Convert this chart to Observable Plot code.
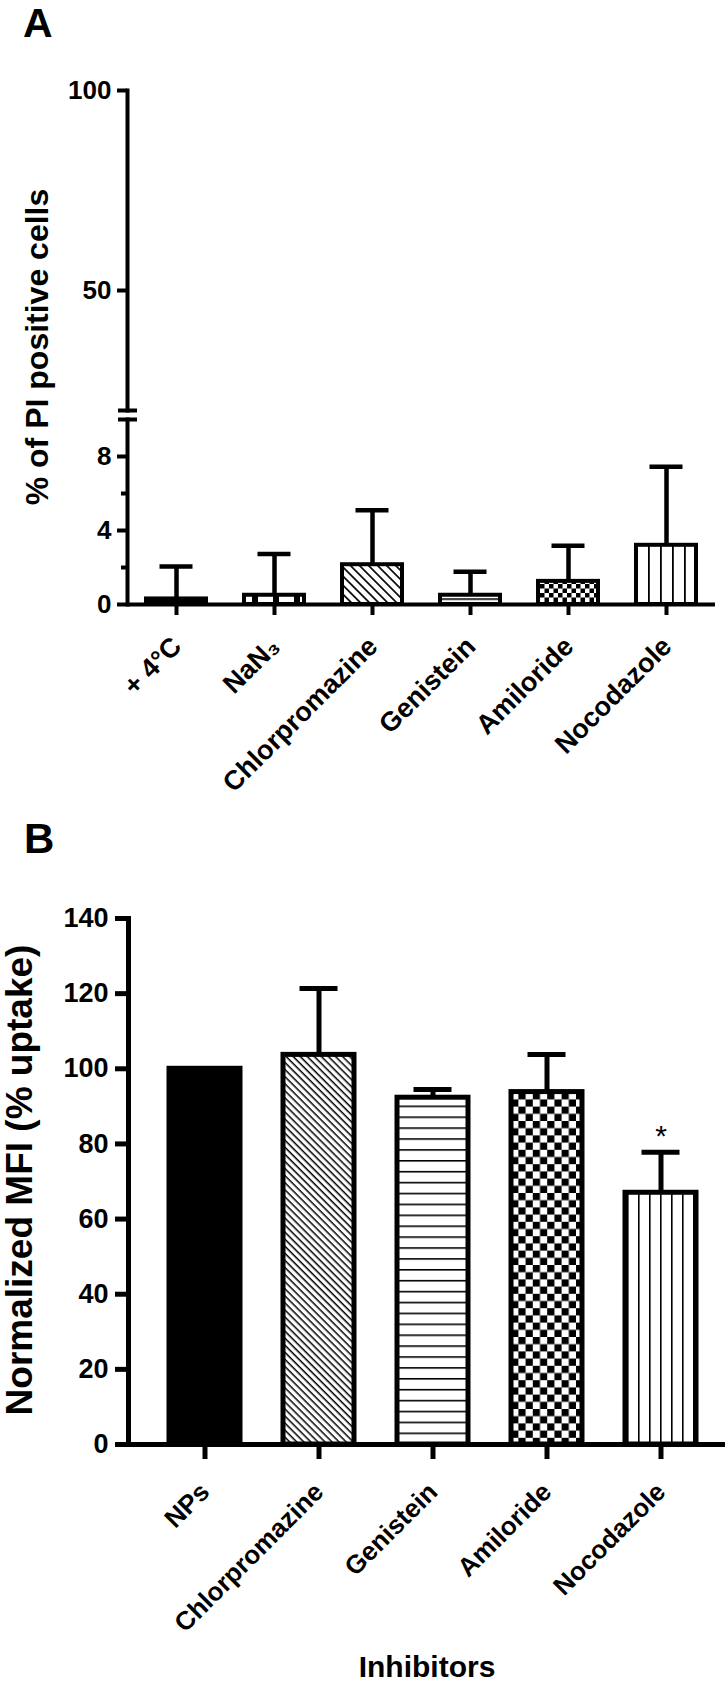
<!DOCTYPE html>
<html><head><meta charset="utf-8">
<script src="https://cdn.jsdelivr.net/npm/d3@7"></script>
<script src="https://cdn.jsdelivr.net/npm/@observablehq/plot@0.6"></script>
<style>
html,body{margin:0;padding:0;background:#fff;}
#page{position:relative;width:727px;height:1685px;overflow:hidden;font-family:"Liberation Sans",Arial,sans-serif;font-weight:bold;color:#000;}
.lbl{position:absolute;white-space:nowrap;line-height:1;z-index:2;}
.rot{transform:translate(-50%,-50%) rotate(-90deg);}
</style></head><body>
<div id="page">
<svg width="0" height="0" style="position:absolute;left:0;top:0">
<defs>
  <pattern id="diagA" patternUnits="userSpaceOnUse" width="6.4" height="6.4" patternTransform="rotate(45)"><rect width="6.4" height="6.4" fill="#fff"/><rect width="6.4" height="1.7" fill="#000"/></pattern>
  <pattern id="hlinesA" patternUnits="userSpaceOnUse" width="10" height="10.9"><rect width="10" height="10.9" fill="#fff"/><rect width="10" height="1.6" fill="#000"/></pattern>
  <pattern id="vlinesA" patternUnits="userSpaceOnUse" width="12" height="10"><rect width="12" height="10" fill="#fff"/><rect width="1.8" height="10" fill="#000"/></pattern>
  <pattern id="checkA" patternUnits="userSpaceOnUse" width="9" height="9"><rect width="9" height="9" fill="#fff"/><rect width="4.5" height="4.5" fill="#000"/><rect x="4.5" y="4.5" width="4.5" height="4.5" fill="#000"/></pattern>
  <pattern id="vbarsA" patternUnits="userSpaceOnUse" width="21" height="10"><rect width="21" height="10" fill="#fff"/><rect width="6" height="10" fill="#000"/></pattern>
  <pattern id="diagB" patternUnits="userSpaceOnUse" width="5" height="5" patternTransform="rotate(45)"><rect width="5" height="5" fill="#fff"/><rect width="5" height="1.5" fill="#000"/></pattern>
  <pattern id="hlinesB" patternUnits="userSpaceOnUse" width="10" height="10.9"><rect width="10" height="10.9" fill="#fff"/><rect width="10" height="1.6" fill="#000"/></pattern>
  <pattern id="vlinesB" patternUnits="userSpaceOnUse" width="11" height="10"><rect width="11" height="10" fill="#fff"/><rect width="1.6" height="10" fill="#000"/></pattern>
  <pattern id="checkB" patternUnits="userSpaceOnUse" width="14.4" height="14.4"><rect width="14.4" height="14.4" fill="#fff"/><rect width="7.2" height="7.2" fill="#000"/><rect x="7.2" y="7.2" width="7.2" height="7.2" fill="#000"/></pattern>
</defs></svg>
<div class="lbl" style="left:23px;top:2.5px;font-size:41px;">A</div>
<div class="lbl" style="left:24px;top:817.5px;font-size:42px;">B</div>
<div class="lbl rot" style="left:37px;top:347px;font-size:32px;">% of PI positive cells</div>
<div class="lbl rot" style="left:19px;top:1180px;font-size:37px;">Normalized MFI (% uptake)</div>
<div class="lbl" style="left:427px;top:1652px;font-size:30px;transform:translateX(-50%);">Inhibitors</div>
</div>
<script>
// ---- Panel A data ----
const catsA = ["+ 4°C", "NaN₃", "Chlorpromazine", "Genistein", "Amiloride", "Nocodazole"];
const meanA = [0.3, 0.5, 2.15, 0.5, 1.25, 3.2];
const sdA   = [1.75, 2.23, 2.95, 1.27, 1.92, 4.24];
const yTicksAUpper = [50, 100];
const yTicksALower = [0, 4, 8];
const yMinorALower = [2, 6];
const yBreakA = [10, 20];
// ---- Panel B data ----
const catsB = ["NPs", "Chlorpromazine", "Genistein", "Amiloride", "Nocodazole"];
const meanB = [100, 103.7, 92.3, 93.8, 67.0];
const sdB   = [0, 17.7, 2.2, 10.0, 10.8];
const sigB  = ["", "", "", "", "*"];
const yTicksB = [0, 20, 40, 60, 80, 100, 120, 140];

// styles (patterns per category)
const fillA = {"+ 4°C": "#000", "NaN₃": "url(#vbarsA)", "Chlorpromazine": "url(#diagA)", "Genistein": "url(#hlinesA)", "Amiloride": "url(#checkA)", "Nocodazole": "url(#vlinesA)"};
const fillB = {"NPs": "#000", "Chlorpromazine": "url(#diagB)", "Genistein": "url(#hlinesB)", "Amiloride": "url(#checkB)", "Nocodazole": "url(#vlinesB)"};

const dataA = catsA.map((c, i) => ({cat: c, mean: meanA[i], sd: sdA[i]}));
const dataB = catsB.map((c, i) => ({cat: c, mean: meanB[i], sd: sdB[i], sig: sigB[i]}));
const font = "'Liberation Sans', Arial, sans-serif";
const page = document.getElementById("page");

function place(svg, top) {
  svg.style.position = "absolute";
  svg.style.left = "0px";
  svg.style.top = top + "px";
  svg.style.background = "transparent";
  svg.style.overflow = "visible";
  page.appendChild(svg);
}

// Panel A upper segment (20–100)
const aUpper = Plot.plot({
  width: 727, height: 413, marginTop: 90, marginBottom: 3, marginLeft: 127, marginRight: 12,
  style: {fontFamily: font, fontWeight: "bold"},
  y: {domain: [yBreakA[1], 100], label: null},
  marks: [
    Plot.frame({anchor: "left", strokeWidth: 4}),
    Plot.axisY(yTicksAUpper, {tickSize: 10, strokeWidth: 4, tickPadding: 6, fontSize: 26, fontWeight: "bold", label: null}),
    Plot.axisY([yBreakA[1]], {tickSize: 19, dx: 10, strokeWidth: 4, tickFormat: () => "", label: null})
  ]
});
place(aUpper, 0);

// Panel A lower segment (0–10) with bars
const aLower = Plot.plot({
  width: 727, height: 420, marginTop: 6, marginBottom: 229, marginLeft: 127, marginRight: 12,
  style: {fontFamily: font, fontWeight: "bold"},
  x: {type: "band", domain: catsA, paddingInner: 0.39, paddingOuter: 0.195, label: null},
  y: {domain: [0, yBreakA[0]], label: null},
  color: {type: "identity"},
  marks: [
    Plot.barY(dataA, {x: "cat", y: "mean", fill: d => fillA[d.cat], stroke: "#000", strokeWidth: 4}),
    Plot.ruleX(dataA, {x: "cat", y1: "mean", y2: d => d.mean + d.sd, strokeWidth: 4.5}),
    Plot.tickY(dataA, {x: "cat", y: d => d.mean + d.sd, strokeWidth: 4.5, inset: 13.5}),
    Plot.ruleY([0], {strokeWidth: 4}),
    Plot.frame({anchor: "left", strokeWidth: 4}),
    Plot.axisY(yTicksALower, {tickSize: 10, strokeWidth: 4, tickPadding: 6, fontSize: 26, fontWeight: "bold", label: null}),
    Plot.axisY(yMinorALower, {tickSize: 6, strokeWidth: 4, tickFormat: () => "", label: null}),
    Plot.axisY([yBreakA[0]], {tickSize: 19, dx: 10, strokeWidth: 4, tickFormat: () => "", label: null}),
    Plot.axisX({tickSize: 11, strokeWidth: 4, tickFormat: () => "", label: null}),
    Plot.text(dataA, {x: "cat", text: "cat", frameAnchor: "bottom", rotate: -45, textAnchor: "end", lineAnchor: "top", dx: -7, dy: 30, fontSize: 27, fontWeight: "bold"})
  ]
});
place(aLower, 413);

// Panel B
const bChart = Plot.plot({
  width: 727, height: 852, marginTop: 85, marginBottom: 241, marginLeft: 128, marginRight: 2,
  style: {fontFamily: font, fontWeight: "bold"},
  x: {type: "band", domain: catsB, paddingInner: 0.38, paddingOuter: 0.3, align: 0.58, label: null},
  y: {domain: [0, 140], label: null},
  color: {type: "identity"},
  marks: [
    Plot.barY(dataB, {x: "cat", y: "mean", fill: d => fillB[d.cat], stroke: "#000", strokeWidth: 5}),
    Plot.ruleX(dataB.filter(d => d.sd > 0), {x: "cat", y1: "mean", y2: d => d.mean + d.sd, strokeWidth: 5}),
    Plot.tickY(dataB.filter(d => d.sd > 0), {x: "cat", y: d => d.mean + d.sd, strokeWidth: 5, inset: 16.5}),
    Plot.text(dataB, {x: "cat", y: d => d.mean + d.sd, text: "sig", dy: -16, fontSize: 30, fontWeight: "normal"}),
    Plot.ruleY([0], {strokeWidth: 5}),
    Plot.frame({anchor: "left", strokeWidth: 5}),
    Plot.axisY(yTicksB, {tickSize: 13, strokeWidth: 5, tickPadding: 7, fontSize: 27, fontWeight: "bold", label: null}),
    Plot.axisX({tickSize: 15, strokeWidth: 5, tickFormat: () => "", label: null}),
    Plot.text(dataB, {x: "cat", text: "cat", frameAnchor: "bottom", rotate: -45, textAnchor: "end", lineAnchor: "top", dx: -7, dy: 36, fontSize: 26, fontWeight: "bold"})
  ]
});
place(bChart, 833);
</script>
</body></html>
